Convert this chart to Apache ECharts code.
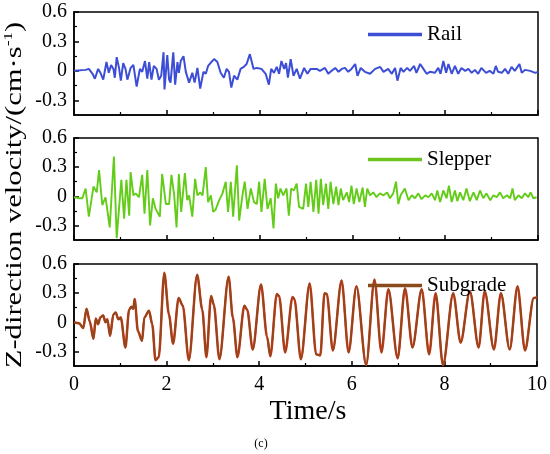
<!DOCTYPE html>
<html><head><meta charset="utf-8">
<script src="https://cdn.jsdelivr.net/npm/echarts@6/dist/echarts.min.js"></script>
<style>html,body{margin:0;padding:0;background:#fff}#c{width:550px;height:454px}</style>
</head><body><div id="c"></div>
<script>
const xTicks = [0, 2, 4, 6, 8, 10];
const yTicks = [-0.3, 0, 0.3, 0.6];
const yMinorTicks = [-0.15, 0.15, 0.45];
const seriesNames = ['Rail', 'Slepper', 'Subgrade'];

const railTime = [0,0.25,0.32,0.40,0.45,0.52,0.57,0.63,0.70,0.75,0.80,0.85,0.88,0.92,0.97,1.01,1.06,1.11,1.15,1.22,1.28,1.35,1.42,1.47,1.53,1.58,1.62,1.67,1.72,1.78,1.83,1.88,1.93,1.95,2.01,2.05,2.08,2.14,2.18,2.23,2.26,2.30,2.36,2.41,2.48,2.55,2.60,2.66,2.72,2.79,2.84,2.89,2.96,3.02,3.09,3.16,3.23,3.29,3.34,3.39,3.45,3.52,3.59,3.66,3.72,3.79,3.87,3.94,4.04,4.13,4.20,4.25,4.31,4.37,4.42,4.47,4.53,4.57,4.61,4.67,4.73,4.80,4.87,4.96,5.03,5.10,5.17,
  5.23,5.30,5.41,5.48,5.55,5.63,5.70,5.77,5.84,5.91,5.98,6.06,6.11,6.18,6.27,6.38,6.49,6.60,6.67,6.77,6.85,6.92,6.97,7.04,7.10,7.18,7.24,7.33,7.38,7.46,7.53,7.60,7.67,7.78,7.85,7.90,7.96,8.02,8.07,8.14,8.21,8.28,8.35,8.43,8.50,8.57,8.64,8.71,8.78,8.88,8.96,9.04,9.09,9.14,9.22,9.29,9.36,9.43,9.50,9.60,9.65,9.72,9.83,9.94,10.0];
const railValues = [0,0.01,0.02,-0.03,-0.08,0.02,-0.02,-0.09,0.09,-0.02,0.06,0.02,-0.07,0.14,0.03,-0.10,0.08,0.02,-0.09,0.03,0.06,-0.16,0.02,-0.01,0.10,-0.08,0.09,-0.09,0.05,0.02,-0.09,-0.05,0.19,-0.19,0.16,-0.09,-0.12,0.19,-0.14,0.09,-0.02,0.10,0.15,-0.01,-0.12,-0.02,-0.12,0.03,-0.18,-0.01,-0.03,0.05,0.09,0.12,0.09,-0.02,-0.07,0.02,-0.01,-0.17,-0.05,-0.09,0.02,0.04,0.07,0.17,0.02,0.03,0.02,-0.03,-0.14,0.02,-0.02,0.04,-0.03,0.10,0.02,0.08,-0.07,0.12,-0.05,0.02,-0.08,0.03,-0.03,0.02,0.02,
  0.02,0,0.03,-0.03,0,0.03,-0.01,0.02,0.03,-0.01,0.02,0.07,-0.05,0.03,-0.01,-0.03,0.02,0.04,-0.01,0.02,-0.03,0.03,-0.10,0.03,-0.01,0.03,0,0.05,-0.02,0.07,0.02,-0.03,-0.01,-0.02,0.03,-0.03,0.10,-0.02,0.07,-0.03,0.05,-0.03,0.03,0,0.02,-0.02,0.01,-0.03,0.03,-0.02,0,-0.03,0.05,-0.01,-0.02,0.02,-0.03,0.04,0,0.07,-0.02,0.01,0,-0.02,-0.01];

const slepperTime = [0,0.11,0.18,0.25,0.32,0.42,0.49,0.54,0.61,0.68,0.77,0.86,0.92,0.97,1.02,1.08,1.13,1.19,1.22,1.28,1.33,1.40,1.47,1.52,1.58,1.64,1.70,1.76,1.85,1.90,1.98,2.05,2.10,2.16,2.21,2.26,2.31,2.39,2.44,2.48,2.55,2.61,2.66,2.72,2.77,2.84,2.89,2.95,3.00,3.05,3.13,3.20,3.27,3.32,3.38,3.43,3.51,3.56,3.63,3.68,3.74,3.81,3.88,3.94,3.99,4.04,4.11,4.17,4.24,4.30,4.35,4.40,4.45,4.51,4.58,4.63,4.68,4.74,4.80,4.85,
  4.94,5.00,5.05,5.10,5.16,5.22,5.27,5.32,5.37,5.43,5.48,5.53,5.59,5.65,5.70,5.75,5.80,5.88,5.93,5.98,6.03,6.09,6.15,6.22,6.27,6.32,6.38,6.45,6.52,6.59,6.67,6.75,6.81,6.88,6.94,6.99,7.04,7.13,7.21,7.28,7.35,7.42,7.49,7.57,7.64,7.71,7.78,7.83,7.89,7.96,8.03,8.08,8.14,8.21,8.26,8.32,8.39,8.46,8.53,8.61,8.68,8.75,8.82,8.89,8.97,9.04,9.11,9.18,9.25,9.33,9.40,9.45,9.50,9.58,9.65,9.72,9.79,9.84,9.90,9.97];
const slepperValues = [-0.01,-0.02,-0.02,0.08,-0.21,0.10,0.04,0.27,-0.09,-0.01,-0.32,0.41,-0.43,-0.13,0.17,-0.23,0.17,-0.20,0.25,0.01,0.03,-0.01,0.22,-0.18,0.27,-0.30,-0.02,-0.13,-0.21,0.23,-0.08,-0.08,0.22,0.01,-0.32,0.23,-0.16,0.24,-0.04,0.01,-0.21,0.18,0.01,0.04,0.01,0.30,-0.06,0.01,-0.16,-0.14,-0.04,0.03,0.15,-0.16,0.15,-0.21,0.32,-0.25,0.01,0.15,-0.13,0.08,-0.06,-0.08,0.15,-0.16,0.18,-0.13,-0.02,-0.33,0.13,-0.02,0.08,0.01,0.08,-0.20,0.08,0.06,0.13,-0.11,
  -0.13,0.13,-0.11,0.15,-0.16,0.17,-0.18,0.18,-0.09,0.13,-0.13,0.15,-0.08,0.10,-0.09,0.08,-0.04,0.04,-0.06,0.11,-0.08,0.08,-0.06,0.09,-0.11,0.08,0.01,0.04,-0.01,0.03,0.01,0.04,-0.02,0.03,0.15,-0.08,0.01,0.08,-0.04,0.01,-0.02,0.03,-0.03,0.01,-0.01,0.03,-0.04,0.06,-0.06,0.06,-0.02,0.11,-0.06,0.06,-0.05,0.04,-0.04,0.08,-0.05,0.04,-0.04,0.06,-0.02,0.03,-0.04,0.01,-0.01,0.04,-0.02,0.01,-0.02,0.08,-0.04,0.01,-0.02,0.03,-0.01,0.04,-0.02,-0.01];

const subgradeTime = [0,0.11,0.20,0.27,0.34,0.42,0.47,0.52,0.57,0.63,0.68,0.72,0.78,0.85,0.90,0.96,1.01,1.11,1.19,1.24,1.28,1.31,1.38,1.47,1.52,1.62,1.69,1.76,1.83,1.95,2.05,2.14,2.26,2.35,2.48,2.66,2.77,2.86,2.96,3.02,3.14,3.34,3.43,3.53,3.68,3.74,3.86,4.04,4.17,4.24,4.38,4.43,4.56,4.72,4.76,4.90,
  5.09,5.23,5.32,5.41,5.46,5.59,5.78,5.93,6.10,6.31,6.49,6.64,6.79,6.99,7.15,7.31,7.51,7.67,7.81,7.97,8.19,8.35,8.55,8.74,8.87,9.07,9.22,9.41,9.58,9.74,9.93,10.0];
const subgradeValues = [0,-0.01,-0.06,0.14,0.01,-0.17,0.04,-0.02,0.05,0.07,0,0.03,-0.14,0.08,0.10,0.03,0.05,-0.26,0.13,0.16,0.14,0.24,-0.09,-0.19,0.05,0.12,-0.02,-0.39,-0.36,0.51,0.08,-0.22,0.25,0.17,-0.39,0.49,0.13,-0.36,0.27,0.18,-0.38,0.47,0.05,-0.36,0.17,0.13,-0.28,0.39,-0.15,-0.35,0.29,0.27,-0.31,0.26,0.24,-0.38,
  0.40,-0.33,-0.34,0.30,0.29,-0.29,0.43,-0.31,0.37,-0.44,0.44,-0.31,0.34,-0.37,0.35,-0.26,0.34,-0.33,0.30,-0.44,0.30,-0.21,0.32,-0.26,0.32,-0.28,0.30,-0.28,0.37,-0.29,0.25,0.26];

const zip = (t, v) => t.map((x, i) => [x, v[i]]);
const FONT = '"Liberation Serif","Times New Roman",serif';
const gridTops = [12, 138, 264];
const gridHeights = [103, 102, 102];
const legendTops = [19, 144, 270];

const grids = gridTops.map((t, i) => ({
  left: 74, top: t, width: 464, height: gridHeights[i],
  show: true, borderColor: '#000', borderWidth: 1.5, backgroundColor: 'transparent'
}));
const xAxes = gridTops.map((t, i) => ({
  type: 'value', gridIndex: i, min: 0, max: 10, interval: 2,
  axisLine: { show: true, onZero: false, lineStyle: { color: '#000', width: 1.5 } },
  axisTick: { show: true, inside: true, length: 5, lineStyle: { color: '#000', width: 1.5 } },
  minorTick: { show: true, splitNumber: 2, length: 3, lineStyle: { color: '#000', width: 1.2 } },
  axisLabel: { show: i === 2, color: '#000', fontFamily: FONT, fontSize: 20, margin: 9,
    customValues: xTicks },
  splitLine: { show: false }, minorSplitLine: { show: false }
}));
const yAxes = [];
gridTops.forEach((t, i) => {
  yAxes.push({
    type: 'value', gridIndex: i, min: -0.45, max: 0.6, position: 'left', offset: 0,
    axisLine: { show: true, onZero: false, lineStyle: { color: '#000', width: 1.5 } },
    axisTick: { show: true, inside: true, length: 5, customValues: yTicks, lineStyle: { color: '#000', width: 1.5 } },
    axisLabel: { show: true, customValues: yTicks, color: '#000', fontFamily: FONT, fontSize: 20, margin: 7,
      formatter: v => (Math.abs(v) < 1e-9 ? '0' : String(Math.round(v * 10) / 10)) },
    splitLine: { show: false }
  });
  yAxes.push({
    type: 'value', gridIndex: i, min: -0.45, max: 0.6, position: 'left', offset: 0,
    axisLine: { show: false },
    axisTick: { show: true, inside: true, length: 3, customValues: yMinorTicks, lineStyle: { color: '#000', width: 1.2 } },
    axisLabel: { show: false },
    splitLine: { show: false }
  });
});

const lineBase = { type: 'line', showSymbol: false, symbol: 'none', animation: false, z: 3 };
const series = [
  Object.assign({}, lineBase, { name: 'Rail', xAxisIndex: 0, yAxisIndex: 0, data: zip(railTime, railValues),
    itemStyle: { color: '#3D4ED6' }, lineStyle: { color: '#3D4ED6', width: 2 } }),
  Object.assign({}, lineBase, { name: 'Slepper', xAxisIndex: 1, yAxisIndex: 2, data: zip(slepperTime, slepperValues),
    itemStyle: { color: '#6CC41C' }, lineStyle: { color: '#62CC18', width: 1.9 } }),
  Object.assign({}, lineBase, { name: 'SubgradeUnder', xAxisIndex: 2, yAxisIndex: 4, data: zip(subgradeTime, subgradeValues),
    smooth: 0.3, smoothMonotone: 'x', lineStyle: { color: '#E0301E', width: 2.5 }, z: 2 }),
  Object.assign({}, lineBase, { name: 'Subgrade', xAxisIndex: 2, yAxisIndex: 4, data: zip(subgradeTime, subgradeValues),
    smooth: 0.3, smoothMonotone: 'x', itemStyle: { color: '#8B4A1A' }, lineStyle: { color: '#8B4A1A', width: 1.8 } })
];

const legends = seriesNames.map((n, i) => ({
  data: [n], left: 363, top: legendTops[i], orient: 'horizontal',
  icon: 'rect', itemWidth: 54, itemHeight: 3.5, itemGap: 5, selectedMode: false,
  textStyle: { color: '#000', fontFamily: FONT, fontSize: 21, lineHeight: 20 }
}));

const chart = echarts.init(document.getElementById('c'), null, { renderer: 'canvas' });
chart.setOption({
  animation: false,
  backgroundColor: '#fff',
  grid: grids, xAxis: xAxes, yAxis: yAxes, series: series, legend: legends,
  graphic: [
    { type: 'text', x: 15, y: 195, rotation: Math.PI / 2, scaleX: 1.33, scaleY: 1,
      style: { text: '{a|Z-direction velocity/(cm·s}{s|-1}{a|)}', align: 'center', verticalAlign: 'middle',
        rich: { a: { fontFamily: FONT, fontSize: 23, fill: '#000', lineHeight: 26 },
                s: { fontFamily: FONT, fontSize: 13, fill: '#000', verticalAlign: 'top', lineHeight: 26 } } } },
    { type: 'text', x: 308, y: 412,
      style: { text: 'Time/s', fontFamily: FONT, fontSize: 28, fill: '#000', align: 'center', verticalAlign: 'middle' } },
    { type: 'text', x: 261, y: 444,
      style: { text: '(c)', fontFamily: FONT, fontSize: 12, fill: '#000', align: 'center', verticalAlign: 'middle' } }
  ]
});
</script></body></html>
